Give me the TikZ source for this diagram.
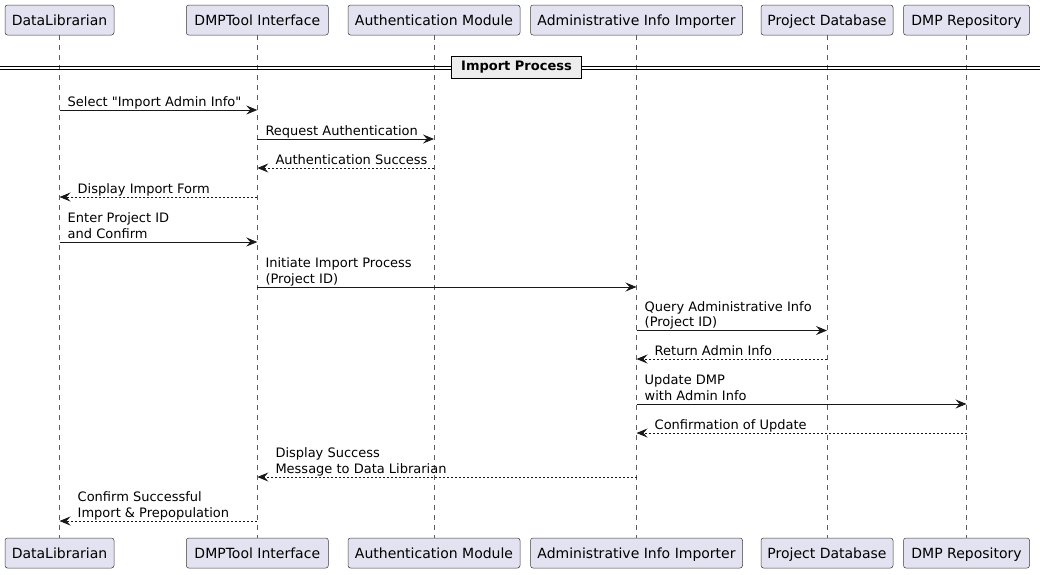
\documentclass[tikz,border=0pt]{standalone}
\usepackage{fontspec}
\setmainfont{DejaVu Sans}
\newfontfamily\plainquotes{DejaVu Sans}[Ligatures=ResetAll]
\newcommand{\sq}{{\plainquotes\symbol{34}}}
\usetikzlibrary{arrows.meta}
\definecolor{partfill}{HTML}{E2E2F0}
\definecolor{ink}{HTML}{181818}
\begin{document}
\begin{tikzpicture}[x=1pt,y=1pt,
  part/.style={draw=ink!85, fill=partfill, rounded corners=2.5pt, minimum height=30pt, inner sep=0pt, line width=0.5pt, text depth=0pt, font=\fontsize{14}{16}\selectfont},
  life/.style={draw=ink!70, dash pattern=on 5pt off 5pt, line width=0.5pt},
  msg/.style={draw=ink, line width=0.9pt, -{Stealth[length=11pt,width=9pt,inset=4pt]}},
  ret/.style={msg, dash pattern=on 2pt off 2pt},
  lbl/.style={font=\fontsize{13}{15.5}\selectfont, align=left, inner sep=0pt, text depth=0pt, anchor=south west},
  divbox/.style={draw=black, fill=black!7, line width=1.4pt, minimum width=130pt, minimum height=22pt, inner sep=0pt, font=\bfseries\fontsize{13}{15}\selectfont}
]
\useasboundingbox (0,0) rectangle (1040,-574);
% participants top
\node[part, minimum width=109pt] (t1) at (59.5,-20) {DataLibrarian};
\node[part, minimum width=142pt] (t2) at (257.3,-20) {DMPTool Interface};
\node[part, minimum width=172pt] (t3) at (434,-20) {Authentication Module};
\node[part, minimum width=212pt] (t4) at (636.5,-20) {Administrative Info Importer};
\node[part, minimum width=132pt] (t5) at (827,-20) {Project Database};
\node[part, minimum width=126pt] (t6) at (966.5,-20) {DMP Repository};
% participants bottom
\node[part, minimum width=109pt] (b1) at (59.5,-553) {DataLibrarian};
\node[part, minimum width=142pt] (b2) at (257.3,-553) {DMPTool Interface};
\node[part, minimum width=172pt] (b3) at (434,-553) {Authentication Module};
\node[part, minimum width=212pt] (b4) at (636.5,-553) {Administrative Info Importer};
\node[part, minimum width=132pt] (b5) at (827,-553) {Project Database};
\node[part, minimum width=126pt] (b6) at (966.5,-553) {DMP Repository};
% lifelines
\foreach \i in {1,...,6} { \draw[life] (t\i.south) -- (b\i.north); }
% divider
\coordinate (dl1) at (0,-66); \coordinate (dr1) at (1040,-66);
\coordinate (dl2) at (0,-69); \coordinate (dr2) at (1040,-69);
\draw[draw=black, line width=0.9pt] (dl1) -- (dr1);
\draw[draw=black, line width=0.9pt] (dl2) -- (dr2);
\node[divbox] (div) at (516.5,-67.5) {Import Process};
% messages
% 1
\coordinate (m1a) at (t1 |- 0,-110); \coordinate (m1b) at (t2 |- 0,-110);
\draw[msg] (m1a) -- (m1b);
\node[lbl] (l1) at ([xshift=8pt,yshift=3.5pt]m1a) {Select \sq Import Admin Info\sq};
% 2
\coordinate (m2a) at (t2 |- 0,-139); \coordinate (m2b) at (t3 |- 0,-139);
\draw[msg] (m2a) -- (m2b);
\node[lbl] (l2) at ([xshift=8pt,yshift=3.5pt]m2a) {Request Authentication};
% 3
\coordinate (m3a) at (t3 |- 0,-168); \coordinate (m3b) at (t2 |- 0,-168);
\draw[ret] (m3a) -- (m3b);
\node[lbl] (l3) at ([xshift=18pt,yshift=3.5pt]m3b) {Authentication Success};
% 4
\coordinate (m4a) at (t2 |- 0,-197); \coordinate (m4b) at (t1 |- 0,-197);
\draw[ret] (m4a) -- (m4b);
\node[lbl] (l4) at ([xshift=18pt,yshift=3.5pt]m4b) {Display Import Form};
% 5
\coordinate (m5a) at (t1 |- 0,-242); \coordinate (m5b) at (t2 |- 0,-242);
\draw[msg] (m5a) -- (m5b);
\node[lbl] (l5) at ([xshift=8pt,yshift=3.5pt]m5a) {Enter Project ID\\and Confirm};
% 6
\coordinate (m6a) at (t2 |- 0,-287); \coordinate (m6b) at (t4 |- 0,-287);
\draw[msg] (m6a) -- (m6b);
\node[lbl] (l6) at ([xshift=8pt,yshift=3.5pt]m6a) {Initiate Import Process\\(Project ID)};
% 7
\coordinate (m7a) at (t4 |- 0,-330.5); \coordinate (m7b) at (t5 |- 0,-330.5);
\draw[msg] (m7a) -- (m7b);
\node[lbl] (l7) at ([xshift=8pt,yshift=3.5pt]m7a) {Query Administrative Info\\(Project ID)};
% 8
\coordinate (m8a) at (t5 |- 0,-359); \coordinate (m8b) at (t4 |- 0,-359);
\draw[ret] (m8a) -- (m8b);
\node[lbl] (l8) at ([xshift=18pt,yshift=3.5pt]m8b) {Return Admin Info};
% 9
\coordinate (m9a) at (t4 |- 0,-404); \coordinate (m9b) at (t6 |- 0,-404);
\draw[msg] (m9a) -- (m9b);
\node[lbl] (l9) at ([xshift=8pt,yshift=3.5pt]m9a) {Update DMP\\with Admin Info};
% 10
\coordinate (m10a) at (t6 |- 0,-433); \coordinate (m10b) at (t4 |- 0,-433);
\draw[ret] (m10a) -- (m10b);
\node[lbl] (l10) at ([xshift=18pt,yshift=3.5pt]m10b) {Confirmation of Update};
% 11
\coordinate (m11a) at (t4 |- 0,-477); \coordinate (m11b) at (t2 |- 0,-477);
\draw[ret] (m11a) -- (m11b);
\node[lbl] (l11) at ([xshift=18pt,yshift=3.5pt]m11b) {Display Success\\Message to Data Librarian};
% 12
\coordinate (m12a) at (t2 |- 0,-521); \coordinate (m12b) at (t1 |- 0,-521);
\draw[ret] (m12a) -- (m12b);
\node[lbl] (l12) at ([xshift=18pt,yshift=3.5pt]m12b) {Confirm Successful\\Import \& Prepopulation};
\end{tikzpicture}
\end{document}
